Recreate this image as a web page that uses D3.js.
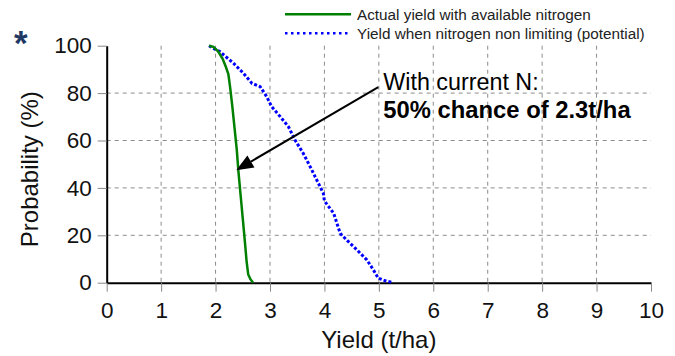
<!DOCTYPE html>
<html lang="en">
  <head>
    <meta charset="UTF-8" />
    <title>Yield probability</title>
    <style>
      body {
        margin: 0;
        background: #fff;
      }
      svg {
        font-family: 'Liberation Sans', Arial, sans-serif;
      }
    </style>
  </head>
  <body>
    <div id="main"></div>
    <script src="https://cdn.jsdelivr.net/npm/d3@7"></script>
    <script>
      // [yield t/ha, probability %]
      const actualYield = [
        [1.88, 100], [1.96, 99.5], [2.05, 97.5], [2.13, 94.5], [2.19, 91],
        [2.235, 88], [2.27, 82], [2.31, 74], [2.35, 65], [2.39, 56],
        [2.42, 47], [2.46, 37], [2.5, 27], [2.54, 17], [2.57, 9],
        [2.6, 3.5], [2.64, 1.5], [2.69, 0]
      ]
      const potentialYield = [
        [1.88, 100], [1.95, 99], [2.08, 97.5], [2.33, 92.6], [2.51, 88.4],
        [2.67, 84.1], [2.82, 82.7], [2.94, 78.5], [3.03, 74.3], [3.19, 70],
        [3.34, 65.8], [3.46, 60.2], [3.61, 54.6], [3.74, 48.9], [3.86, 43.3],
        [3.98, 37.7], [4.0, 34.5], [4.17, 29.3], [4.29, 20.8], [4.41, 18],
        [4.6, 13.8], [4.78, 9.6], [4.9, 5.4], [4.99, 1.9], [5.12, 0.8], [5.24, 0.2]
      ]
      const xTicks = [0, 1, 2, 3, 4, 5, 6, 7, 8, 9, 10]
      const yTicks = [0, 20, 40, 60, 80, 100]
      const seriesNames = [
        'Actual yield with available nitrogen',
        'Yield when nitrogen non limiting (potential)'
      ]
      const noteLines = ['With current N:', '50% chance of 2.3t/ha']
      const arrowTip = [2.38, 47.5]
      const arrowTail = [4.99, 82.5]

      const [width, height] = [675, 356]
      const color = ['#008000', '#0000ff']

      const svg = d3
        .select('#main')
        .append('svg')
        .attr('width', width)
        .attr('height', height)
        .attr('viewBox', `0 0 ${width} ${height}`)

      const xScale = d3.scaleLinear().domain([0, 10]).range([106.7, 651])
      const yScale = d3.scaleLinear().domain([0, 100]).range([282.7, 45.7])

      // grid
      const grid = svg
        .append('g')
        .attr('stroke', '#8c8c8c')
        .attr('stroke-width', 1)
        .attr('stroke-dasharray', '4,4')
      grid
        .selectAll('line.v')
        .data(xTicks.slice(1, -1))
        .join('line')
        .attr('class', 'v')
        .attr('x1', d => xScale(d))
        .attr('x2', d => xScale(d))
        .attr('y1', yScale(100))
        .attr('y2', yScale(0))
      grid
        .selectAll('line.h')
        .data(yTicks.slice(1, -1))
        .join('line')
        .attr('class', 'h')
        .attr('x1', xScale(0))
        .attr('x2', xScale(10))
        .attr('y1', d => yScale(d))
        .attr('y2', d => yScale(d))

      // axes
      const xAxis = svg
        .append('g')
        .attr('transform', `translate(0, ${yScale(0)})`)
        .call(
          d3.axisBottom(xScale).tickValues(xTicks).tickSize(9).tickSizeOuter(0).tickPadding(10)
        )
      const yAxis = svg
        .append('g')
        .attr('transform', `translate(${xScale(0)}, 0)`)
        .call(
          d3.axisLeft(yScale).tickValues(yTicks).tickSize(9).tickSizeOuter(0).tickPadding(6)
        )
      ;[xAxis, yAxis].forEach(ax => {
        ax.attr('font-family', null).attr('font-size', null)
        ax.select('.domain').attr('stroke', '#000').attr('stroke-width', 2)
        ax.selectAll('.tick line').attr('stroke', '#888').attr('stroke-width', 1)
        ax.selectAll('.tick text').attr('fill', '#111').style('font-size', '22.5px')
      })

      svg
        .append('text')
        .attr('x', (xScale(0) + xScale(10)) / 2)
        .attr('y', 348)
        .attr('text-anchor', 'middle')
        .style('font-size', '24px')
        .attr('fill', '#111')
        .text('Yield (t/ha)')

      svg
        .append('text')
        .attr('transform', `translate(38, ${(yScale(0) + yScale(100)) / 2 + 5}) rotate(-90)`)
        .attr('text-anchor', 'middle')
        .style('font-size', '24px')
        .attr('fill', '#111')
        .text('Probability (%)')

      // curves
      const line = d3
        .line()
        .x(d => xScale(d[0]))
        .y(d => yScale(d[1]))

      svg
        .append('path')
        .attr('d', line(potentialYield))
        .attr('fill', 'none')
        .attr('stroke', color[1])
        .attr('stroke-width', 3)
        .attr('stroke-dasharray', '3,2')

      svg
        .append('path')
        .attr('d', line(actualYield))
        .attr('fill', 'none')
        .attr('stroke', color[0])
        .attr('stroke-width', 2.5)

      // legend
      const legend = svg
        .append('g')
        .selectAll('g')
        .data(seriesNames)
        .join('g')
        .attr('transform', (_, i) => `translate(285, ${14.3 + i * 19})`)
      legend
        .append('line')
        .attr('x2', 66)
        .attr('stroke', (_, i) => color[i])
        .attr('stroke-width', 2.5)
        .attr('stroke-dasharray', (_, i) => (i ? '2.5,3.5' : null))
      legend
        .append('text')
        .attr('x', 72)
        .attr('y', 5.5)
        .style('font-size', '15.3px')
        .attr('fill', '#222')
        .text(d => d)

      // annotation
      const [tx, ty] = [xScale(arrowTip[0]), yScale(arrowTip[1])]
      const [sx, sy] = [xScale(arrowTail[0]), yScale(arrowTail[1])]
      const ang = Math.atan2(ty - sy, tx - sx)
      const headLen = 17
      const headW = 7
      const bx = tx - headLen * Math.cos(ang)
      const by = ty - headLen * Math.sin(ang)
      svg
        .append('line')
        .attr('x1', sx)
        .attr('y1', sy)
        .attr('x2', bx)
        .attr('y2', by)
        .attr('stroke', '#000')
        .attr('stroke-width', 2)
      svg
        .append('polygon')
        .attr(
          'points',
          [
            [tx, ty],
            [bx + headW * Math.sin(ang), by - headW * Math.cos(ang)],
            [bx - headW * Math.sin(ang), by + headW * Math.cos(ang)]
          ].join(' ')
        )
        .attr('fill', '#000')

      svg
        .append('g')
        .selectAll('text')
        .data(noteLines)
        .join('text')
        .attr('x', sx + 5)
        .attr('y', (_, i) => sy + 2.5 + i * 28)
        .style('font-size', (_, i) => (i ? '23.8px' : '23.3px'))
        .attr('font-weight', (_, i) => (i ? 'bold' : 'normal'))
        .attr('fill', '#000')
        .text(d => d)

      svg
        .append('text')
        .attr('x', 14)
        .attr('y', 55)
        .style('font-size', '35px')
        .attr('font-weight', 'bold')
        .attr('fill', '#1f3864')
        .text('*')
    </script>
  </body>
</html>
